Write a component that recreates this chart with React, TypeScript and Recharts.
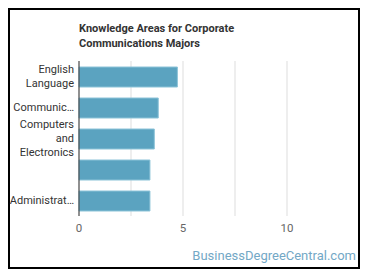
import { BarChart, Bar, XAxis, YAxis, CartesianGrid } from 'recharts';

// Knowledge areas, as the chart labels them (long names are cut off in the source)
const areas = ['English Language', 'Communic…', 'Computers and Electronics', '', 'Administrat…'];
const scores = [4.73, 3.81, 3.62, 3.41, 3.41];
const xTicks = [0, 2.5, 5, 7.5, 10];
const xLabels = ['0', '', '5', '', '10'];
const X_MAX = 12.5;

const data = areas.map((area, i) => ({ area, score: scores[i] }));

const FONT = 'Roboto, "Noto Sans", sans-serif';

function wrapLabel(text: string, maxChars: number) {
  const lines: string[] = [];
  let cur = '';
  for (const w of text.split(' ')) {
    if (!cur) cur = w;
    else if ((cur + ' ' + w).length <= maxChars) cur += ' ' + w;
    else {
      lines.push(cur);
      cur = w;
    }
  }
  if (cur) lines.push(cur);
  return lines;
}

function AreaTick(props: any) {
  const { x, y, payload } = props;
  const lines = wrapLabel(payload.value, 10);
  const lh = 14;
  const start = -((lines.length - 1) * lh) / 2;
  return (
    <text x={x} y={y} textAnchor="end" fill="#333" fontSize={11} fontFamily={FONT}>
      {lines.map((l, i) => (
        <tspan key={i} x={x} y={y + start + i * lh} dy="0.35em">
          {l}
        </tspan>
      ))}
    </text>
  );
}

// grid only at the real ticks, not at the domain end
function gridX({ offset }: any) {
  return xTicks.map((t) => offset.left + (offset.width * t) / X_MAX);
}

export default function App() {
  return (
    <div style={{ position: 'relative', width: 352, height: 261, fontFamily: FONT }}>
      <div
        style={{
          position: 'absolute',
          inset: 0,
          border: '2px solid #000',
          boxSizing: 'border-box',
        }}
      />
      <div
        style={{
          position: 'absolute',
          left: 71,
          top: 13,
          fontSize: 11,
          fontWeight: 700,
          lineHeight: '15px',
          color: '#333',
        }}
      >
        Knowledge Areas for Corporate
        <br />
        Communications Majors
      </div>
      <div style={{ position: 'absolute', left: 0, top: 0 }}>
        <BarChart
          width={352}
          height={261}
          data={data}
          layout="vertical"
          barSize={20}
          margin={{ top: 53, right: 21, bottom: 23, left: 0 }}
        >
          <CartesianGrid horizontal={false} stroke="#ddd" verticalCoordinatesGenerator={gridX} />
          <XAxis
            type="number"
            domain={[0, X_MAX]}
            ticks={xTicks}
            tickFormatter={(v: number) => xLabels[xTicks.indexOf(v)] ?? ''}
            axisLine={false}
            tickLine={false}
            height={30}
            tick={{ fill: '#666', fontSize: 11.5, fontFamily: FONT }}
          />
          <YAxis
            type="category"
            dataKey="area"
            width={71}
            tickLine={false}
            tickSize={3}
            axisLine={{ stroke: '#333' }}
            tick={<AreaTick />}
            interval={0}
          />
          <Bar dataKey="score" fill="#5ba3c0" stroke="#8cc3d8" strokeWidth={1} isAnimationActive={false} />
        </BarChart>
      </div>
      <div
        style={{
          position: 'absolute',
          right: 4,
          top: 240,
          fontSize: 13,
          color: '#73a8c6',
        }}
      >
        BusinessDegreeCentral.com
      </div>
    </div>
  );
}
